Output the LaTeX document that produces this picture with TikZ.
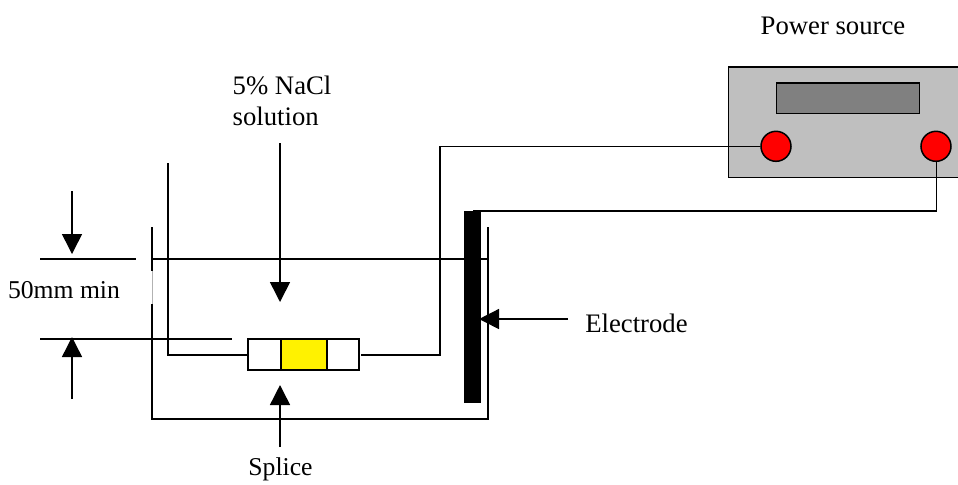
\documentclass[tikz,border=0pt]{standalone}
\usepackage{fontspec}
\setmainfont{Liberation Serif}
\usetikzlibrary{arrows.meta}
\tikzset{
  wire/.style={black, line width=0.43pt},
  pointer/.style={wire, -{Triangle[width=0.2cm,length=0.2cm]}},
  box/.style={draw=black, line width=0.43pt, inner sep=0pt},
  terminal/.style={box, circle, fill=red, minimum size=0.3cm},
  label/.style={inner sep=0pt, font=\fontsize{7.6}{8.8}\selectfont},
  smalllabel/.style={inner sep=0pt, font=\fontsize{7.3}{8.8}\selectfont}
}
\begin{document}
\begin{tikzpicture}[scale=0.1]
  \useasboundingbox (0,0) rectangle (95.8,-48.5);
  % power source
  \node [box, fill=black!25, minimum width=2.34cm, minimum height=1.105cm] (source) at (84.53,-12.225) {};
  \node [box, fill=black!50, minimum width=1.43cm, minimum height=0.305cm] (display) at (84.78,-9.825) {};
  \node [terminal] (plus) at (77.6,-14.63) {};
  \node [terminal] (minus) at (93.6,-14.63) {};
  \node [label] (sourcetext) at (83.3,-2.6) {Power source};
  % tank
  \coordinate (walltop) at (15.2,-22.7);
  \coordinate (gaptop) at (15.2,-27.1);
  \coordinate (gapbot) at (15.2,-30.4);
  \coordinate (tankleft) at (15.2,-41.9);
  \coordinate (tankright) at (48.8,-41.9);
  \coordinate (righttop) at (48.8,-22.7);
  \coordinate (waterleft) at (15.2,-25.9);
  \coordinate (waterright) at (48.8,-25.9);
  \draw [wire] (walltop) -- (gaptop);
  \draw [black!30, line width=0.2pt] (gaptop) -- (gapbot);
  \draw [wire] (gapbot) -- (tankleft) -- (tankright) -- (righttop);
  \draw [wire] (waterleft) -- (waterright);
  % electrode
  \node [fill=black, inner sep=0pt, minimum width=0.17cm, minimum height=1.92cm] (electrode) at (47.25,-30.7) {};
  % splice
  \node [box, minimum width=1.11cm, minimum height=0.305cm] (splice) at (30.35,-35.45) {};
  \node [box, fill=yellow, minimum width=0.46cm, minimum height=0.305cm] (core) at (30.4,-35.45) {};
  % wires
  \coordinate (wireend) at (16.8,-16.3);
  \coordinate (wirecorner) at (16.8,-35.5);
  \coordinate (wirestart) at (36.1,-35.5);
  \coordinate (wirebend) at (44,-35.5);
  \coordinate (wireup) at (44,-14.67);
  \coordinate (leadend) at (47.3,-21.1);
  \coordinate (leadbend) at (93.65,-21.1);
  \draw [wire] (wireend) -- (wirecorner) -- (splice.west |- wirecorner);
  \draw [wire] (wirestart) -- (wirebend) -- (wireup) -- (plus.west |- wireup);
  \draw [wire] (minus.south -| leadbend) -- (leadbend) -- (leadend);
  % dimension
  \coordinate (dimtopa) at (4,-25.9);
  \coordinate (dimtopb) at (13.6,-25.9);
  \coordinate (dimbota) at (4,-33.9);
  \coordinate (dimbotb) at (23.2,-33.9);
  \coordinate (downstart) at (7.2,-19.1);
  \coordinate (downtip) at (7.2,-25.4);
  \coordinate (upstart) at (7.2,-39.9);
  \coordinate (uptip) at (7.2,-33.7);
  \draw [wire] (dimtopa) -- (dimtopb);
  \draw [wire] (dimbota) -- (dimbotb);
  \draw [pointer] (downstart) -- (downtip);
  \draw [pointer] (upstart) -- (uptip);
  \node [smalllabel] (dimtext) at (6.4,-29) {50mm min};
  % labels
  \node [label, anchor=west] (salttext) at (23.2,-8.5) {5\% NaCl};
  \node [label, anchor=west] (solutiontext) at (23.2,-11.6) {solution};
  \coordinate (saltstart) at (28,-14.33);
  \coordinate (salttip) at (28,-30.2);
  \draw [pointer] (saltstart) -- (salttip);
  \node [smalllabel] (splicetext) at (28.05,-46.9) {Splice};
  \coordinate (splicestart) at (28,-44.7);
  \coordinate (splicetip) at (28,-38.5);
  \draw [pointer] (splicestart) -- (splicetip);
  \node [label] (electrodetext) at (63.65,-32.3) {Electrode};
  \coordinate (electrodestart) at (56.8,-31.9);
  \coordinate (electrodetip) at (47.9,-31.9);
  \draw [pointer] (electrodestart) -- (electrodetip);
\end{tikzpicture}
\end{document}
